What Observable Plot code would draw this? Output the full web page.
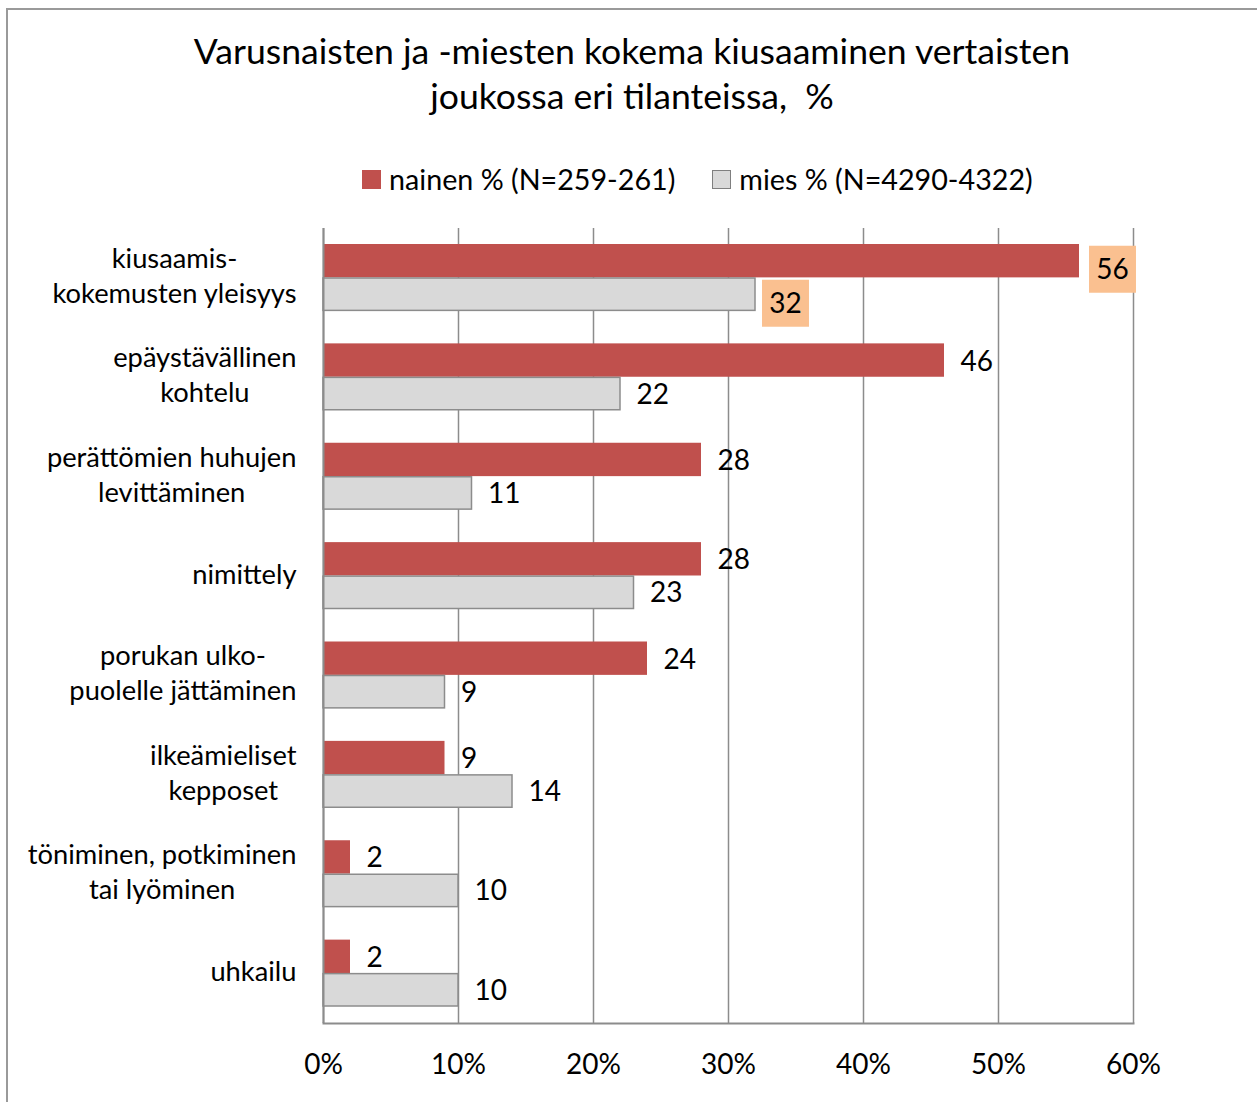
<!DOCTYPE html>
<html><head><meta charset="utf-8">
<script src="https://cdn.jsdelivr.net/npm/d3@7"></script>
<script src="https://cdn.jsdelivr.net/npm/@observablehq/plot@0.6"></script>
<style>
body{margin:0;background:#fff;font-family:Lato,sans-serif;color:#000;}
#wrap{position:relative;width:1257px;height:1102px;overflow:hidden;}
#border{position:absolute;left:6px;top:8px;width:1300px;height:1200px;border:2px solid #9a9a9a;box-sizing:border-box;pointer-events:none;}
#header{position:relative;height:210px;}
#title{position:absolute;top:28px;left:0;width:1264px;text-align:center;font-size:35.6px;line-height:45px;white-space:pre;}
#legend{position:absolute;top:162px;left:362px;display:flex;align-items:center;font-size:28.7px;white-space:nowrap;}
.item{display:flex;align-items:center;}
.sw{width:19px;height:19px;display:inline-block;margin-right:8px;box-sizing:border-box;}
#chart{position:relative;}
</style></head>
<body>
<div id="wrap">
  <div id="border"></div>
  <div id="header">
    <div id="title"></div>
    <div id="legend"></div>
  </div>
  <div id="chart"></div>
</div>
<script>
const titleLines = ["Varusnaisten ja -miesten kokema kiusaaminen vertaisten", "joukossa eri tilanteissa,  %"];
const seriesNames = ["nainen % (N=259-261)", "mies % (N=4290-4322)"];
const categories = [
  "kiusaamis-\nkokemusten yleisyys",
  "epäystävällinen\nkohtelu",
  "perättömien huhujen\nlevittäminen",
  "nimittely",
  "porukan ulko-\npuolelle jättäminen",
  "ilkeämieliset\nkepposet",
  "töniminen, potkiminen\ntai lyöminen",
  "uhkailu"
];
const nainen = [56, 46, 28, 28, 24, 9, 2, 2];
const mies = [32, 22, 11, 23, 9, 14, 10, 10];
const xTicks = [0, 10, 20, 30, 40, 50, 60];

const RED = "#C0504D", GRAY = "#D9D9D9", LINE = "#8c8c8c", HILITE = "#FAC090";

const titleEl = document.getElementById("title");
titleLines.forEach((l, i) => {
  if (i > 0) titleEl.append(document.createElement("br"));
  titleEl.append(document.createTextNode(l));
});
const legend = document.getElementById("legend");
seriesNames.forEach((name, i) => {
  const it = document.createElement("span");
  it.className = "item";
  if (i > 0) it.style.marginLeft = "37px";
  const sw = document.createElement("span");
  sw.className = "sw";
  sw.style.background = i === 0 ? RED : GRAY;
  if (i > 0) sw.style.border = "1.5px solid #7f7f7f";
  it.append(sw, document.createTextNode(name));
  legend.append(it);
});

const rowsN = categories.map((c, i) => ({category: c, value: nainen[i], idx: i}));
const rowsM = categories.map((c, i) => ({category: c, value: mies[i], idx: i}));
const hl = d => d.idx === 0;
const nl = d => d.idx !== 0;

const chart = Plot.plot({
  width: 1257,
  height: 892,
  marginTop: 18,
  marginBottom: 79,
  marginLeft: 323,
  marginRight: 124,
  style: {fontFamily: "Lato, sans-serif", color: "#000", background: "transparent", overflow: "visible"},
  x: {domain: [0, 60]},
  y: {domain: categories, padding: 0, round: false},
  marks: [
    Plot.gridX(xTicks, {stroke: LINE, strokeOpacity: 1, strokeWidth: 1.5}),
    Plot.barX(rowsN, {x: "value", y: "category", fill: RED, insetTop: 16, insetBottom: 50}),
    Plot.barX(rowsM, {x: "value", y: "category", fill: GRAY, stroke: LINE, strokeWidth: 1.5, insetTop: 50, insetBottom: 17}),
    Plot.ruleX([0], {stroke: LINE, strokeWidth: 2}),
    Plot.frame({anchor: "bottom", stroke: LINE, strokeWidth: 2}),
    Plot.dot(rowsN.filter(hl), {x: "value", y: "category", symbol: "square", r: 26.5, fill: HILITE, dx: 33, dy: -9}),
    Plot.dot(rowsM.filter(hl), {x: "value", y: "category", symbol: "square", r: 26.5, fill: HILITE, dx: 30, dy: 25}),
    Plot.text(rowsN.filter(hl), {x: "value", y: "category", text: d => String(d.value), dx: 33, dy: -8, textAnchor: "middle", fontSize: 28}),
    Plot.text(rowsM.filter(hl), {x: "value", y: "category", text: d => String(d.value), dx: 30, dy: 26, textAnchor: "middle", fontSize: 28}),
    Plot.text(rowsN.filter(nl), {x: "value", y: "category", text: d => String(d.value), dx: 16, dy: -16, textAnchor: "start", fontSize: 28}),
    Plot.text(rowsM.filter(nl), {x: "value", y: "category", text: d => String(d.value), dx: 16, dy: 17, textAnchor: "start", fontSize: 28}),
    Plot.axisX(xTicks, {tickSize: 0, tickPadding: 31, tickFormat: d => d + "%", fontSize: 28, label: null}),
    Plot.axisY({tickSize: 0, tickPadding: 27, fontSize: 27.3, lineHeight: 1.28, dy: -4, label: null})
  ]
});
document.getElementById("chart").append(chart);

// center the lines of multi-line category labels within a right-aligned block
chart.querySelectorAll('[aria-label="y-axis tick label"] text').forEach(t => {
  const spans = t.querySelectorAll("tspan");
  if (!spans.length) return;
  let w = 0;
  spans.forEach(s => { w = Math.max(w, s.getComputedTextLength()); });
  t.setAttribute("text-anchor", "middle");
  spans.forEach(s => s.setAttribute("x", -w / 2));
});
</script>
</body></html>
